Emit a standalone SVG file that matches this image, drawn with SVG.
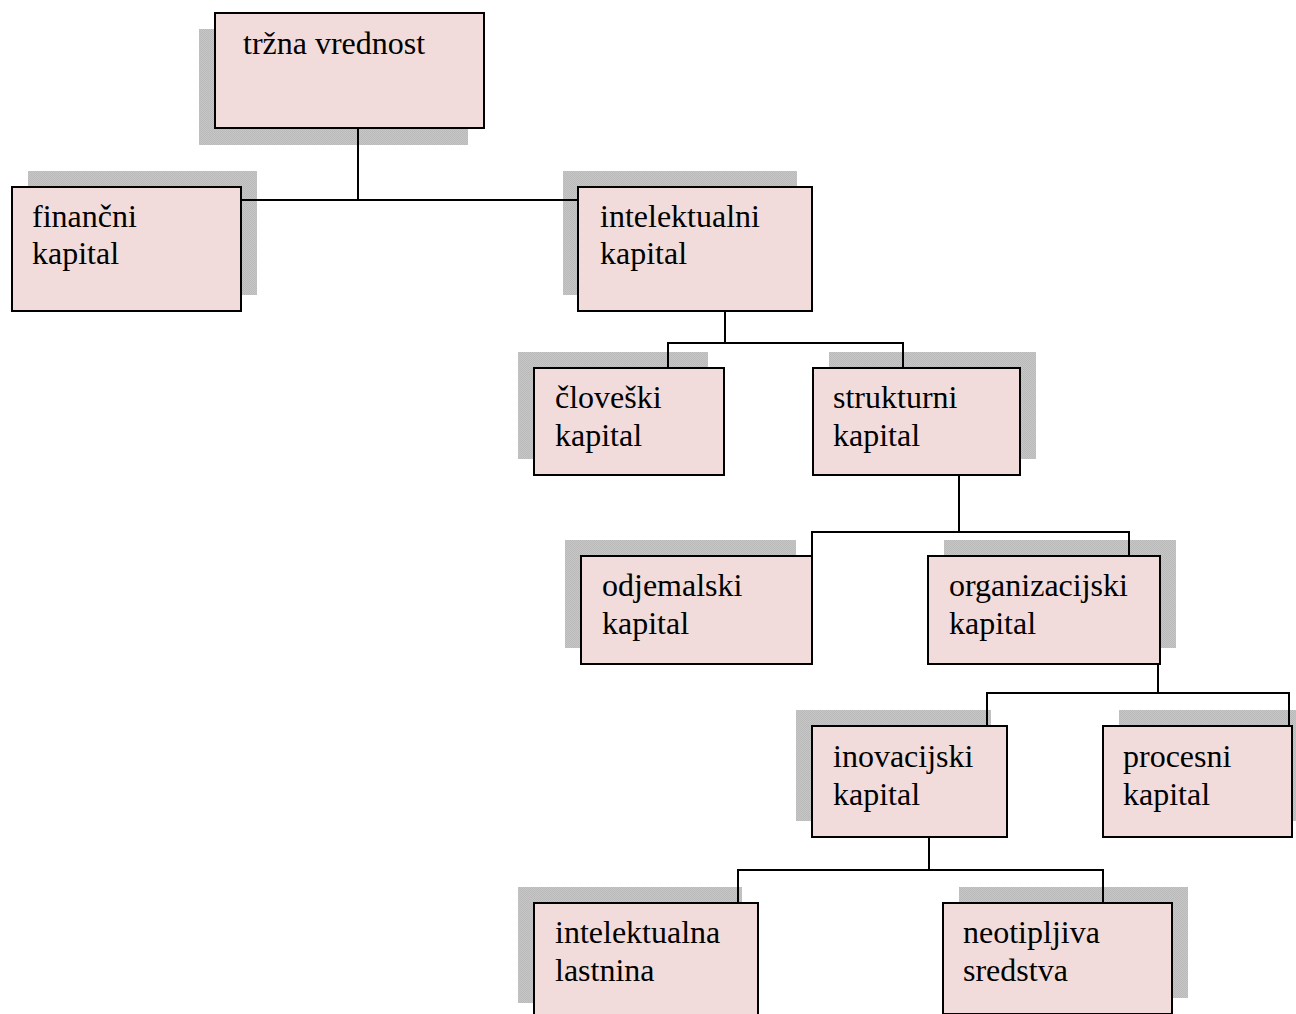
<svg xmlns="http://www.w3.org/2000/svg" width="1296" height="1014" viewBox="0 0 1296 1014">
  <defs>
    <!-- fine dither used for the drop shadows -->
    <pattern id="dither" width="2" height="2" patternUnits="userSpaceOnUse">
      <rect width="2" height="2" fill="#c6c6c6"/>
      <rect width="1" height="1" fill="#bababa"/>
      <rect x="1" y="1" width="1" height="1" fill="#bababa"/>
    </pattern>
    <style>
      .shadow { fill: url(#dither); }
      .box { fill: #f2dcdb; stroke: #000; stroke-width: 2; }
      .label { font-family: "Liberation Serif", "Times New Roman", serif; font-size: 32px; fill: #000; }
      .wire { fill: none; stroke: #000; stroke-width: 2; }
    </style>
  </defs>
  <rect width="1296" height="1014" fill="#fff"/>

  <g id="node-trzna-vrednost">
    <rect class="shadow" x="199" y="29" width="269" height="116"/>
    <rect class="box" x="215" y="13" width="269" height="115"/>
    <text class="label" x="243" y="54">tržna vrednost</text>
  </g>

  <g id="node-financni-kapital">
    <rect class="shadow" x="28" y="171" width="229" height="124"/>
    <rect class="box" x="12" y="187" width="229" height="124"/>
    <text class="label" x="32" y="227">finančni</text>
    <text class="label" x="32" y="264">kapital</text>
  </g>

  <g id="node-intelektualni-kapital">
    <rect class="shadow" x="563" y="171" width="234" height="124"/>
    <rect class="box" x="578" y="187" width="234" height="124"/>
    <text class="label" x="600" y="227">intelektualni</text>
    <text class="label" x="600" y="264">kapital</text>
  </g>

  <g id="node-cloveski-kapital">
    <rect class="shadow" x="518" y="352" width="190" height="107"/>
    <rect class="box" x="534" y="368" width="190" height="107"/>
    <text class="label" x="555" y="408">človeški</text>
    <text class="label" x="555" y="446">kapital</text>
  </g>

  <g id="node-strukturni-kapital">
    <rect class="shadow" x="829" y="352" width="207" height="107"/>
    <rect class="box" x="813" y="368" width="207" height="107"/>
    <text class="label" x="833" y="408">strukturni</text>
    <text class="label" x="833" y="446">kapital</text>
  </g>

  <g id="node-odjemalski-kapital">
    <rect class="shadow" x="565" y="540" width="231" height="108"/>
    <rect class="box" x="581" y="556" width="231" height="108"/>
    <text class="label" x="602" y="596">odjemalski</text>
    <text class="label" x="602" y="634">kapital</text>
  </g>

  <g id="node-organizacijski-kapital">
    <rect class="shadow" x="944" y="540" width="232" height="108"/>
    <rect class="box" x="928" y="556" width="232" height="108"/>
    <text class="label" x="949" y="596">organizacijski</text>
    <text class="label" x="949" y="634">kapital</text>
  </g>

  <g id="node-inovacijski-kapital">
    <rect class="shadow" x="796" y="710" width="195" height="111"/>
    <rect class="box" x="812" y="726" width="195" height="111"/>
    <text class="label" x="833" y="767">inovacijski</text>
    <text class="label" x="833" y="805">kapital</text>
  </g>

  <g id="node-procesni-kapital">
    <rect class="shadow" x="1119" y="710" width="189" height="111"/>
    <rect class="box" x="1103" y="726" width="189" height="111"/>
    <text class="label" x="1123" y="767">procesni</text>
    <text class="label" x="1123" y="805">kapital</text>
  </g>

  <g id="node-intelektualna-lastnina">
    <rect class="shadow" x="518" y="887" width="224" height="116"/>
    <rect class="box" x="534" y="903" width="224" height="116"/>
    <text class="label" x="555" y="943">intelektualna</text>
    <text class="label" x="555" y="981">lastnina</text>
  </g>

  <g id="node-neotipljiva-sredstva">
    <rect class="shadow" x="959" y="887" width="229" height="111"/>
    <rect class="box" x="943" y="903" width="229" height="111"/>
    <text class="label" x="963" y="943">neotipljiva</text>
    <text class="label" x="963" y="981">sredstva</text>
  </g>

  <!-- elbow connectors between parents and children -->
  <g id="connectors" class="wire">
    <path class="wire" d="M358 129 V200 M242 200 H577"/>
    <path class="wire" d="M725 312 V343 M668 367 V343 H903 V367"/>
    <path class="wire" d="M959 476 V532 M812 555 V532 H1129 V555"/>
    <path class="wire" d="M1158 665 V693 M987 725 V693 H1289 V725"/>
    <path class="wire" d="M929 838 V870 M738 902 V870 H1103 V902"/>
  </g>
</svg>
